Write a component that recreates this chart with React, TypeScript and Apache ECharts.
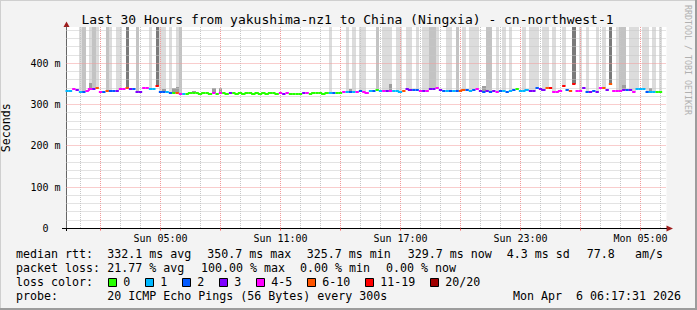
import React, { useEffect, useRef } from "react";
import * as echarts from "echarts";

const FONT = '"DejaVu Sans Mono", monospace';

// x axis: minutes after Sun 00:00 ; y axis: milliseconds
const X_MIN = 18;
const X_MAX = 1818;
const Y_MAX = 488;

const FIRST_STEP_MIN = 20;
const STEP_MIN = 10;

// median rtt per 10-minute step (ms)
const medianMs = [
  333, 333, 337, 336, 330, 331, 334, 339, 338, 341, 330, 331, 334, 332, 332, 333, 337, 337,
  341, 338, 337, 330, 331, 340, 341, 337, 337, 344, 331, 330, 330, 329, 327, 328, 326, 326,
  326, 328, 329, 327, 326, 327, 328, 326, 327, 325, 327, 328, 326, 327, 328, 326, 327, 326,
  327, 328, 326, 327, 325, 327, 326, 327, 328, 326, 327, 326, 327, 325, 325, 326, 325, 327,
  327, 326, 327, 328, 327, 326, 327, 328, 329, 327, 328, 330, 331, 330, 331, 330, 332, 331,
  329, 332, 333, 335, 332, 333, 332, 333, 334, 333, 331, 333, 337, 336, 335, 335, 333, 333,
  334, 337, 337, 341, 336, 333, 333, 334, 333, 333, 332, 335, 335, 333, 335, 339, 332, 331,
  332, 331, 332, 330, 333, 334, 331, 333, 336, 337, 334, 332, 335, 333, 332, 341, 338, 336,
  341, 341, 330, 331, 333, 345, 336, 333, 349, 333, 334, 341, 331, 331, 332, 331, 341, 341,
  335, 349, 333, 333, 332, 335, 336, 335, 330, 338, 338, 337, 330, 331, 330, 331, 331,
];

// lost pings (of 20) per step
const lossCount = [
  1, 1, 4, 3, 1, 2, 4, 4, 3, 6, 4, 2, 6, 2, 2, 3, 4, 4,
  6, 3, 2, 3, 3, 4, 4, 1, 1, 11, 2, 2, 1, 2, 0, 6, 4, 1,
  0, 0, 0, 0, 0, 0, 0, 0, 4, 0, 4, 0, 0, 3, 0, 0, 0, 0,
  0, 0, 0, 0, 0, 0, 0, 0, 0, 0, 4, 3, 4, 0, 0, 0, 0, 3,
  4, 0, 0, 0, 0, 0, 0, 1, 2, 0, 0, 4, 1, 2, 1, 4, 2, 4,
  4, 1, 2, 0, 1, 4, 3, 4, 1, 1, 1, 6, 3, 3, 2, 2, 4, 3,
  4, 3, 3, 4, 3, 2, 1, 2, 1, 2, 6, 6, 2, 1, 2, 4, 3, 2,
  3, 2, 3, 4, 2, 1, 2, 1, 2, 0, 1, 1, 1, 3, 3, 2, 3, 3,
  6, 11, 4, 4, 4, 11, 2, 6, 11, 4, 4, 3, 2, 3, 2, 3, 4, 6,
  3, 6, 4, 4, 4, 3, 2, 3, 4, 1, 1, 1, 2, 1, 1, 0, 0,
];

// steps whose smoke runs off the top of the scale, and its density (1 light, 2 medium, 3 dark)
const smokeBarSteps = [
  4, 5, 7, 8, 9, 12, 13, 15, 16, 18, 21, 25, 27, 28, 29, 31, 33, 34,
  79, 84, 86, 88, 89,
  93, 95, 96, 97, 99, 100, 102, 103, 105, 107, 108, 109, 110, 111, 114, 115, 117, 119,
  121, 122, 123, 126, 127, 129, 131, 133, 137, 139, 140, 141, 143, 144, 146, 149,
  152, 154, 156, 159, 161, 163, 165, 166, 167, 169, 170, 171, 173, 174, 176, 178,
];
const smokeBarShade = [
  1, 2, 1, 2, 1, 2, 1, 1, 1, 3, 2, 1, 3, 1, 1, 1, 1, 2,
  1, 1, 1, 1, 1,
  2, 1, 1, 1, 1, 1, 1, 1, 1, 1, 1, 2, 2, 1, 1, 1, 2, 1,
  1, 1, 1, 2, 2, 1, 1, 1, 1, 1, 1, 1, 1, 1, 1, 1,
  3, 1, 1, 1, 1, 3, 1, 2, 2, 1, 1, 1, 1, 1, 1, 1,
];

// steps with a small visible smoke plume just above the median (max rtt, ms)
const smokeBumpSteps = [7, 29, 32, 33, 38, 44, 46, 85, 97, 125, 167, 175];
const smokeBumpTopMs = [352, 338, 340, 342, 333, 341, 340, 339, 350, 345, 348, 341];

const xLabelMinutes = [300, 660, 1020, 1380, 1740];
const majorHourMinutes = [120, 300, 480, 660, 840, 1020, 1200, 1380, 1560, 1740];
const allHourMinutes = [
  60, 120, 180, 240, 300, 360, 420, 480, 540, 600, 660, 720, 780, 840, 900,
  960, 1020, 1080, 1140, 1200, 1260, 1320, 1380, 1440, 1500, 1560, 1620, 1680, 1740, 1800,
];
const yMajorMs = [100, 200, 300, 400];
const yAllMs = [20, 40, 60, 80, 100, 120, 140, 160, 180, 200, 220, 240, 260, 280, 300, 320, 340, 360, 380, 400, 420, 440, 460, 480];

const lossClasses = [
  { label: "0", max: 0, color: "#26ff00" },
  { label: "1", max: 1, color: "#00b8ff" },
  { label: "2", max: 2, color: "#0059ff" },
  { label: "3", max: 3, color: "#7e00ff" },
  { label: "4-5", max: 5, color: "#ff00ff" },
  { label: "6-10", max: 10, color: "#ff5500" },
  { label: "11-19", max: 19, color: "#ff0000" },
  { label: "20/20", max: 20, color: "#a00000" },
];

const titleText = "Last 30 Hours from yakushima-nz1 to China (Ningxia) - cn-northwest-1";
const rttLabel = "median rtt:";
const rttStats = ["332.1 ms avg", "350.7 ms max", "325.7 ms min", "329.7 ms now", "4.3 ms sd", "77.8", "am/s"];
const lossLabel = "packet loss:";
const lossStats = ["21.77 % avg", "100.00 % max", "0.00 % min", "0.00 % now"];
const probeLabel = "probe:";
const probeText = "20 ICMP Echo Pings (56 Bytes) every 300s";
const dateText = "Mon Apr\u00a0 6 06:17:31 2026";
const sideText = "RRDTOOL / TOBI OETIKER";

const smokeColors = ["#ffffff", "#dcdcdc", "#c3c3c3", "#7a7a7a", "#9d9d9d"];

function lossClassIndex(n: number) {
  for (let k = 0; k < lossClasses.length; k++) if (n <= lossClasses[k].max) return k;
  return lossClasses.length - 1;
}
const stepMinute = (i: number) => FIRST_STEP_MIN + STEP_MIN * i;

function fmtTime(m: number) {
  const day = m >= 1440 ? "Mon" : "Sun";
  const h = Math.floor((m % 1440) / 60);
  return `${day} ${String(h).padStart(2, "0")}:00`;
}

function buildOption() {
  const smokeData = smokeBarSteps
    .map((s, k) => [stepMinute(s), medianMs[s], Y_MAX, smokeBarShade[k]])
    .concat(smokeBumpSteps.map((s, k) => [stepMinute(s), medianMs[s], smokeBumpTopMs[k], 4]));

  const gridData: number[][] = [];
  allHourMinutes.forEach((m) => gridData.push([m, 1, majorHourMinutes.includes(m) ? 1 : 0]));
  yAllMs.forEach((v) => gridData.push([X_MIN + 1, v, yMajorMs.includes(v) ? 3 : 2]));

  const lineData = medianMs.map((v, i) => {
    const c = lossClassIndex(lossCount[i]);
    const same = i > 0 && lossClassIndex(lossCount[i - 1]) === c ? 1 : 0;
    return [stepMinute(i), v, c, same, i > 0 ? medianMs[i - 1] : v];
  });

  const graphic: any[] = [];
  // frame
  graphic.push({ type: "rect", shape: { x: 0, y: 0, width: 697, height: 1 }, style: { fill: "#cfcfcf" }, silent: true });
  graphic.push({ type: "rect", shape: { x: 0, y: 0, width: 1, height: 310 }, style: { fill: "#cfcfcf" }, silent: true });
  graphic.push({ type: "rect", shape: { x: 0, y: 308, width: 697, height: 2 }, style: { fill: "#9c9c9c" }, silent: true });
  graphic.push({ type: "rect", shape: { x: 695, y: 0, width: 2, height: 310 }, style: { fill: "#9c9c9c" }, silent: true });
  // title
  graphic.push({
    type: "text", x: 347.5, y: 19,
    style: { text: titleText, font: `13px ${FONT}`, fill: "#000", align: "center", verticalAlign: "middle" },
  });
  // side credit
  graphic.push({
    type: "text", x: 688, y: 60, rotation: -Math.PI / 2,
    style: { text: sideText, font: `8.3px ${FONT}`, fill: "#b0b0b0", align: "center", verticalAlign: "middle" },
  });
  // arrows
  graphic.push({ type: "polygon", shape: { points: [[63.5, 27], [69.5, 27], [66.5, 21.5]] }, style: { fill: "#9e1c1c" } });
  graphic.push({ type: "polygon", shape: { points: [[666.5, 225.5], [666.5, 231.5], [673, 228.5]] }, style: { fill: "#9e1c1c" } });
  // small axis extensions
  graphic.push({ type: "line", shape: { x1: 62, y1: 228.5, x2: 67, y2: 228.5 }, style: { stroke: "#000", lineWidth: 1 } });
  graphic.push({ type: "line", shape: { x1: 66.5, y1: 228, x2: 66.5, y2: 231 }, style: { stroke: "#000", lineWidth: 1 } });

  const txt = (x: number, y: number, text: string) => ({
    type: "text", x, y,
    style: { text, font: `11.63px ${FONT}`, fill: "#000", align: "left", verticalAlign: "middle" },
  });
  // legend rows
  const rttX = [107.3, 207.3, 306.7, 407.7, 506.7, 586.7, 635];
  graphic.push(txt(16, 254, rttLabel));
  rttStats.forEach((s, k) => graphic.push(txt(rttX[k], 254, s)));
  const lossX = [107.3, 201, 300, 386];
  graphic.push(txt(16, 268, lossLabel));
  lossStats.forEach((s, k) => graphic.push(txt(lossX[k], 268, s)));
  graphic.push(txt(16, 282, "loss color:"));
  let bx = 108.3;
  lossClasses.forEach((c) => {
    graphic.push({
      type: "rect", shape: { x: Math.round(bx) + 0.5, y: 278.5, width: 8, height: 8 },
      style: { fill: c.color, stroke: "#000", lineWidth: 1 },
    });
    graphic.push(txt(bx + 15, 282, c.label));
    bx += 30 + 7 * c.label.length;
  });
  graphic.push(txt(16, 296, probeLabel));
  graphic.push(txt(107.3, 296, probeText));
  graphic.push(txt(513, 296, dateText));

  return {
    animation: false,
    backgroundColor: "#f3f3f3",
    grid: {
      left: 66.5, right: 30.5, top: 27, bottom: 81.5,
      show: true, backgroundColor: "#ffffff", borderWidth: 0,
      containLabel: false, outerBoundsMode: "none",
    },
    xAxis: [
      {
        type: "value", min: X_MIN, max: X_MAX,
        axisLine: { show: true, onZero: false, lineStyle: { color: "#000", width: 1 } },
        axisTick: { show: true, customValues: majorHourMinutes, length: 2, lineStyle: { color: "#ff6060" } },
        axisLabel: {
          show: true, customValues: xLabelMinutes, formatter: (v: number) => fmtTime(v),
          margin: 5, fontFamily: FONT, fontSize: 10, color: "#000",
        },
        splitLine: { show: false },
      },
    ],
    yAxis: [
      {
        type: "value", min: 0, max: Y_MAX, interval: 100,
        axisLine: { show: true, onZero: false, lineStyle: { color: "#666", width: 1 } },
        axisTick: { show: false },
        axisLabel: {
          formatter: (v: number) => (v === 0 ? "0\u00a0\u00a0" : v % 100 === 0 ? `${v} m` : ""),
          margin: 6, fontFamily: FONT, fontSize: 10, color: "#000",
        },
        splitLine: { show: false },
        name: "Seconds", nameLocation: "middle", nameGap: 55, nameRotate: 90,
        nameTextStyle: { fontFamily: FONT, fontSize: 11.63, color: "#000" },
      },
    ],
    series: [
      {
        type: "custom", name: "smoke", z: 1, silent: true,
        data: smokeData,
        renderItem: (params: any, api: any) => {
          const t = api.value(0), base = api.value(1), top = api.value(2), shade = api.value(3);
          const p0 = api.coord([t - STEP_MIN / 2, top]);
          const p1 = api.coord([t + STEP_MIN / 2, base]);
          const xa = Math.round(p0[0]), xb = Math.round(p1[0]);
          const ya = Math.round(p0[1]), yb = Math.round(p1[1]);
          return { type: "rect", shape: { x: xa, y: ya, width: xb - xa, height: yb - ya }, style: { fill: smokeColors[shade] } };
        },
      },
      {
        type: "custom", name: "grid", z: 2, silent: true,
        data: gridData,
        renderItem: (params: any, api: any) => {
          const cs = params.coordSys;
          const kind = api.value(2);
          if (kind < 2) {
            const px = Math.floor(api.coord([api.value(0), 1])[0]) + 0.5;
            return {
              type: "line", shape: { x1: px, y1: cs.y, x2: px, y2: cs.y + cs.height },
              style: { stroke: kind === 1 ? "#f29a9a" : "#c6c6c6", lineWidth: 1, lineDash: [1, 1] },
            };
          }
          const py = Math.floor(api.coord([X_MIN + 1, api.value(1)])[1]) + 0.5;
          return {
            type: "line", shape: { x1: cs.x, y1: py, x2: cs.x + cs.width, y2: py },
            style: { stroke: kind === 3 ? "#f29a9a" : "#c6c6c6", lineWidth: 1, lineDash: [1, 1] },
          };
        },
      },
      {
        type: "custom", name: "median rtt", z: 3, silent: true,
        data: lineData,
        renderItem: (params: any, api: any) => {
          const t = api.value(0), v = api.value(1), c = api.value(2), same = api.value(3), pv = api.value(4);
          const a = api.coord([t - STEP_MIN / 2, v]);
          const b = api.coord([t + STEP_MIN / 2, v]);
          const y = Math.round(a[1]);
          const pts: number[][] = [];
          if (same) {
            const p = api.coord([t - STEP_MIN / 2, pv]);
            pts.push([a[0], Math.round(p[1])]);
          }
          pts.push([a[0], y], [b[0], y]);
          return { type: "polyline", shape: { points: pts }, style: { stroke: lossClasses[c].color, lineWidth: 2, fill: null } };
        },
      },
    ],
    graphic,
  };
}

export default function App() {
  const ref = useRef<HTMLDivElement>(null);
  useEffect(() => {
    document.body.style.margin = "0";
    if (!ref.current) return;
    const chart = echarts.init(ref.current, null, { renderer: "svg" });
    chart.setOption(buildOption() as any);
    return () => chart.dispose();
  }, []);
  return <div ref={ref} style={{ position: "fixed", left: 0, top: 0, width: 697, height: 310 }} />;
}
